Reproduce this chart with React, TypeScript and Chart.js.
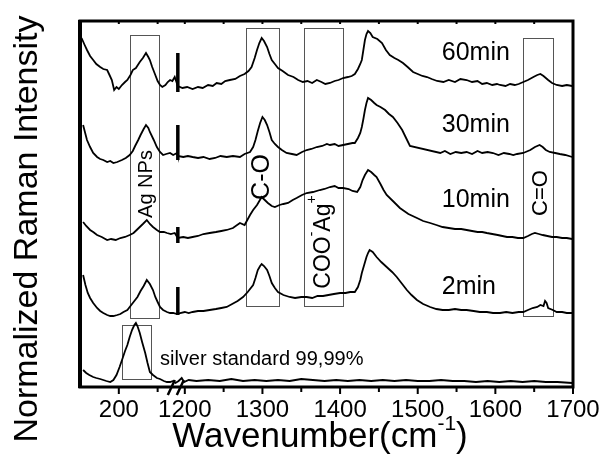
import { useEffect, useRef } from "react";
import { Chart, registerables } from "chart.js";

Chart.register(...registerables);

const FONT = "'Liberation Sans', Arial, Helvetica, sans-serif";

// ---- broken x axis: low range (cm-1) then high range (cm-1)
const BREAK_AT = 276; // axis units where the break sits
const HIGH_START = 1200;
const HIGH_OFFSET = 285;
const toAxis = (wn: number) => (wn < 1000 ? wn : wn - HIGH_START + HIGH_OFFSET);
const fromAxis = (a: number) => (a <= BREAK_AT ? a : a - HIGH_OFFSET + HIGH_START);

const xTickWn = [200, 250, 1200, 1250, 1300, 1350, 1400, 1450, 1500, 1550, 1600, 1650, 1700];
const xLabelWn = [200, 1200, 1300, 1400, 1500, 1600, 1700];

// ---- spectra: [wavenumber, offset intensity]
const s60: [number, number][] = [
  [152, 349], [156, 342], [159, 337], [163, 331], [167, 327], [171, 323], [176, 320], [180, 318], [185, 317], [188, 312],
  [191, 307], [194, 297], [197, 300], [200, 298], [204, 302], [208, 305], [211, 307], [215, 312], [218, 317], [222, 319],
  [227, 325], [231, 329], [235, 334], [238, 330], [240, 327], [243, 320], [247, 312], [250, 306], [253, 302], [256, 300],
  [260, 302], [263, 305], [266, 307], [269, 306], [272, 310],
  [1191, 301], [1197, 299], [1203, 300], [1210, 298], [1217, 300], [1223, 299], [1230, 302], [1236, 301], [1241, 304],
  [1247, 303], [1252, 306], [1258, 307], [1265, 308], [1271, 311], [1277, 313], [1282, 316], [1286, 320], [1290, 329],
  [1293, 337], [1296, 344], [1299, 349], [1302, 346], [1306, 340], [1309, 333], [1312, 327], [1316, 323], [1320, 319],
  [1326, 316], [1333, 312], [1340, 310], [1346, 307], [1352, 305], [1358, 306], [1364, 304], [1370, 307], [1376, 305],
  [1381, 303], [1387, 304], [1393, 306], [1398, 307], [1404, 309], [1410, 310], [1415, 311], [1419, 313], [1423, 318],
  [1426, 323], [1428, 327], [1430, 337], [1432, 347], [1434, 353], [1436, 356], [1439, 354], [1442, 350], [1448, 348],
  [1454, 344], [1459, 337], [1464, 332], [1470, 329], [1475, 327], [1481, 324], [1487, 320], [1494, 315], [1500, 313],
  [1506, 311], [1512, 310], [1518, 308], [1525, 306], [1533, 305], [1540, 307], [1548, 305], [1555, 308], [1563, 307],
  [1570, 305], [1577, 306], [1583, 303], [1589, 304], [1596, 302], [1602, 303], [1606, 302], [1613, 301], [1619, 303],
  [1625, 302], [1630, 303], [1636, 305], [1642, 307], [1649, 310], [1654, 312], [1658, 313], [1662, 311], [1668, 307],
  [1673, 304], [1679, 302], [1686, 301], [1692, 302], [1699, 301],
];

const s30: [number, number][] = [
  [154, 262], [157, 253], [159, 247], [163, 240], [167, 234], [172, 230], [176, 228], [180, 227], [185, 225], [189, 226],
  [193, 224], [198, 225], [204, 227], [209, 229], [214, 232], [218, 236], [221, 241], [225, 247], [228, 252], [232, 258],
  [235, 262], [238, 259], [240, 255], [245, 247], [249, 240], [253, 235], [257, 232], [261, 233], [266, 234], [270, 232],
  [275, 234],
  [1191, 231], [1198, 230], [1204, 231], [1210, 230], [1217, 229], [1224, 230], [1232, 228], [1239, 229], [1246, 231],
  [1254, 230], [1262, 231], [1271, 230], [1277, 233], [1284, 235], [1288, 240], [1291, 247], [1294, 256], [1297, 264],
  [1300, 270], [1303, 267], [1306, 262], [1309, 255], [1312, 247], [1316, 243], [1320, 240], [1325, 237], [1331, 234],
  [1338, 233], [1344, 232], [1351, 235], [1357, 237], [1363, 238], [1370, 240], [1377, 241], [1383, 243], [1387, 242],
  [1393, 243], [1398, 241], [1404, 242], [1410, 243], [1416, 244], [1419, 244], [1423, 249], [1426, 254], [1428, 260],
  [1430, 268], [1432, 277], [1434, 284], [1436, 289], [1440, 287], [1444, 284], [1447, 282], [1452, 280], [1458, 277],
  [1463, 273], [1468, 270], [1474, 264], [1480, 257], [1485, 249], [1490, 241], [1529, 234], [1535, 236], [1542, 233],
  [1549, 235], [1556, 234], [1563, 235], [1570, 233], [1577, 236], [1583, 234], [1590, 235], [1597, 234], [1604, 232],
  [1611, 234], [1618, 233], [1623, 232], [1628, 233], [1636, 234], [1645, 237], [1651, 240], [1657, 242], [1661, 240],
  [1665, 237], [1670, 235], [1677, 234], [1683, 233], [1690, 232], [1699, 230],
];

const s10: [number, number][] = [
  [154, 165], [158, 161], [163, 157], [167, 155], [172, 152], [178, 150], [185, 147], [190, 148], [196, 147], [202, 149],
  [208, 150], [214, 152], [219, 154], [223, 157], [227, 160], [231, 163], [236, 167], [240, 163], [244, 160], [249, 157],
  [253, 155], [258, 155], [262, 154], [267, 153], [272, 154],
  [1191, 149], [1198, 150], [1204, 149], [1210, 150], [1217, 151], [1224, 153], [1232, 154], [1240, 155], [1247, 156],
  [1254, 157], [1262, 159], [1271, 164], [1277, 162], [1284, 172], [1288, 177], [1293, 182], [1296, 186], [1299, 190],
  [1303, 187], [1307, 184], [1312, 181], [1316, 180], [1322, 182], [1327, 183], [1333, 184], [1339, 187], [1344, 189],
  [1351, 192], [1357, 194], [1365, 195], [1374, 197], [1380, 198], [1387, 200], [1393, 201], [1398, 199], [1404, 199],
  [1411, 198], [1416, 196], [1422, 195], [1426, 200], [1429, 207], [1432, 212], [1436, 217], [1440, 215], [1444, 212],
  [1447, 210], [1452, 203], [1456, 197], [1460, 192], [1468, 186], [1477, 179], [1488, 173], [1499, 169], [1507, 166],
  [1516, 164], [1524, 162], [1532, 160], [1540, 159], [1548, 158], [1556, 158], [1563, 157], [1570, 156], [1577, 155],
  [1583, 155], [1589, 154], [1596, 153], [1603, 152], [1609, 151], [1615, 150], [1622, 150], [1629, 149], [1636, 149],
  [1642, 151], [1647, 153], [1651, 154], [1656, 153], [1661, 152], [1667, 151], [1673, 150], [1679, 150], [1686, 149],
  [1692, 149], [1699, 148],
];

const s2: [number, number][] = [
  [154, 112], [157, 102], [160, 94], [163, 89], [167, 84], [172, 79], [176, 76], [180, 74], [185, 72], [189, 71],
  [193, 71], [198, 72], [202, 73], [206, 75], [211, 77], [215, 81], [219, 85], [224, 90], [228, 96], [232, 101],
  [236, 107], [240, 103], [244, 97], [247, 90], [250, 85], [253, 80], [257, 77], [262, 75], [266, 74], [270, 74],
  [275, 73],
  [1194, 74], [1200, 75], [1205, 74], [1210, 75], [1217, 76], [1224, 76], [1232, 77], [1240, 78], [1247, 79],
  [1254, 80], [1261, 83], [1268, 86], [1275, 90], [1281, 95], [1288, 102], [1291, 109], [1294, 117], [1297, 121],
  [1299, 123], [1302, 121], [1306, 117], [1309, 111], [1312, 104], [1316, 99], [1320, 95], [1327, 92], [1335, 90],
  [1342, 89], [1350, 90], [1357, 90], [1364, 89], [1371, 91], [1378, 91], [1385, 92], [1392, 93], [1400, 94],
  [1407, 94], [1413, 95], [1419, 95], [1423, 100], [1426, 107], [1428, 114], [1431, 122], [1434, 130], [1436, 134],
  [1438, 137], [1442, 135], [1447, 130], [1453, 125], [1460, 120], [1467, 115], [1473, 110], [1480, 103], [1486, 97],
  [1492, 92], [1499, 87], [1507, 83], [1516, 80], [1524, 78], [1532, 77], [1540, 77], [1548, 78], [1556, 77],
  [1563, 77], [1572, 76], [1580, 75], [1589, 75], [1597, 74], [1606, 74], [1614, 75], [1622, 74], [1630, 75],
  [1636, 75], [1642, 77], [1648, 79], [1654, 80], [1658, 82], [1662, 81], [1664, 86], [1666, 84], [1668, 79],
  [1674, 77], [1679, 75], [1686, 75], [1692, 74], [1699, 74],
];

const sAg: [number, number][] = [
  [154, 17], [158, 14], [162, 12], [167, 10], [171, 9], [176, 8], [180, 7], [184, 6], [189, 5], [193, 7],
  [197, 12], [201, 20], [205, 29], [208, 36], [211, 42], [214, 50], [217, 57], [220, 62], [222, 64], [224, 61],
  [227, 54], [230, 45], [234, 34], [237, 24], [240, 15], [244, 12], [249, 9], [253, 8], [258, 6], [262, 5],
  [266, 5], [270, 6], [273, 4],
  [1192, 6], [1196, 9], [1199, 5], [1205, 7], [1215, 6], [1230, 7], [1245, 6], [1260, 8], [1275, 6], [1290, 7],
  [1305, 6], [1320, 7], [1335, 6], [1350, 8], [1365, 7], [1380, 6], [1395, 7], [1410, 6], [1425, 7], [1440, 6],
  [1455, 7], [1470, 6], [1485, 7], [1500, 6], [1515, 6], [1530, 7], [1545, 6], [1560, 6], [1575, 5], [1590, 6],
  [1605, 5], [1620, 6], [1635, 5], [1650, 6], [1665, 5], [1680, 5], [1699, 4],
];

const seriesNames = ["60min", "30min", "10min", "2min"];
// vertical marks at the axis break for each time series (low, high)
const breakLow = [295, 227, 144, 72];
const breakHigh = [334, 262, 160, 100];

// ---- annotation boxes (wavenumber range, intensity range)
const boxes = [
  { from: 214, to: 252, low: 69, high: 352 },
  { from: 204, to: 241.5, low: 8, high: 62 },
  { from: 1279, to: 1321, low: 81, high: 359 },
  { from: 1353, to: 1404, low: 81, high: 359 },
  { from: 1636, to: 1674, low: 71, high: 349 },
];

type Piece = [string, boolean];
const boxLabels: { parts: Piece[]; wn: number; y: number; size: number }[] = [
  { parts: [["Ag NPs", false]], wn: 235, y: 203, size: 20 },
  { parts: [["C-O", false]], wn: 1299, y: 210, size: 25 },
  { parts: [["COO", false], ["-", true], ["Ag", false], ["+", true]], wn: 1378.5, y: 145, size: 23 },
  { parts: [["C=O", false]], wn: 1659, y: 194, size: 22 },
];

const seriesLabelPos = [
  { wn: 1531, y: 327 },
  { wn: 1531, y: 255 },
  { wn: 1531, y: 180 },
  { wn: 1531, y: 93 },
];
const silverLabel = { text: "silver standard 99,99%", wn: 253, y: 22 };

function drawPieces(ctx: CanvasRenderingContext2D, parts: Piece[], size: number, startX: number, baseY: number) {
  let x = startX;
  for (const [t, sup] of parts) {
    const fs = sup ? Math.round(size * 0.6) : size;
    ctx.font = `${fs}px ${FONT}`;
    ctx.fillText(t, x, sup ? baseY - size * 0.5 : baseY);
    x += ctx.measureText(t).width;
  }
}
function piecesWidth(ctx: CanvasRenderingContext2D, parts: Piece[], size: number) {
  let w = 0;
  for (const [t, sup] of parts) {
    const fs = sup ? Math.round(size * 0.6) : size;
    ctx.font = `${fs}px ${FONT}`;
    w += ctx.measureText(t).width;
  }
  return w;
}

const decorPlugin = {
  id: "decor",
  beforeDatasetsDraw(chart: any) {
    const { ctx, scales } = chart;
    const xs = scales.x;
    const ys = scales.y;
    ctx.save();
    ctx.strokeStyle = "#555";
    ctx.lineWidth = 1;
    for (const b of boxes) {
      const x0 = Math.round(xs.getPixelForValue(toAxis(b.from))) + 0.5;
      const x1 = Math.round(xs.getPixelForValue(toAxis(b.to))) + 0.5;
      const y0 = Math.round(ys.getPixelForValue(b.high)) + 0.5;
      const y1 = Math.round(ys.getPixelForValue(b.low)) + 0.5;
      ctx.strokeRect(x0, y0, x1 - x0, y1 - y0);
    }
    ctx.restore();
  },
  afterDatasetsDraw(chart: any) {
    const { ctx, scales, chartArea } = chart;
    const xs = scales.x;
    const ys = scales.y;
    const { left, right, top, bottom } = chartArea;
    ctx.save();
    ctx.fillStyle = "#000";
    ctx.strokeStyle = "#000";

    // frame
    ctx.lineWidth = 3;
    ctx.strokeRect(left, top, right - left, bottom - top);
    ctx.lineWidth = 4;
    ctx.beginPath();
    ctx.moveTo(left, top - 1);
    ctx.lineTo(left, bottom + 1);
    ctx.stroke();

    // ticks
    ctx.lineWidth = 2;
    for (const wn of xTickWn) {
      const px = xs.getPixelForValue(toAxis(wn));
      const major = xLabelWn.includes(wn);
      ctx.beginPath();
      ctx.moveTo(px, bottom);
      ctx.lineTo(px, bottom + (major ? 7 : 5));
      ctx.moveTo(px, top);
      ctx.lineTo(px, top + 3);
      ctx.stroke();
    }

    // axis break slashes
    const bx = xs.getPixelForValue(BREAK_AT);
    ctx.lineWidth = 2.5;
    ctx.beginPath();
    ctx.moveTo(bx - 10, bottom + 8);
    ctx.lineTo(bx - 3, bottom - 7);
    ctx.moveTo(bx - 1, bottom + 8);
    ctx.lineTo(bx + 6, bottom - 7);
    ctx.stroke();

    // series labels
    ctx.textAlign = "left";
    ctx.textBaseline = "alphabetic";
    ctx.font = `25px ${FONT}`;
    seriesNames.forEach((name, i) => {
      const p = seriesLabelPos[i];
      ctx.fillText(name, xs.getPixelForValue(toAxis(p.wn)), ys.getPixelForValue(p.y));
    });
    ctx.font = `20px ${FONT}`;
    ctx.fillText(silverLabel.text, xs.getPixelForValue(toAxis(silverLabel.wn)), ys.getPixelForValue(silverLabel.y));

    // rotated box labels
    ctx.textBaseline = "middle";
    for (const l of boxLabels) {
      const cx = xs.getPixelForValue(toAxis(l.wn));
      const cy = ys.getPixelForValue(l.y);
      ctx.save();
      ctx.translate(cx, cy);
      ctx.rotate(-Math.PI / 2);
      const w = piecesWidth(ctx, l.parts, l.size);
      drawPieces(ctx, l.parts, l.size, -w / 2, 0);
      ctx.restore();
    }

    // y axis title
    ctx.save();
    ctx.translate(27.5, 229);
    ctx.rotate(-Math.PI / 2);
    ctx.textAlign = "center";
    ctx.textBaseline = "middle";
    ctx.font = `34px ${FONT}`;
    ctx.fillText("Normalized Raman Intensity", 0, 0);
    ctx.restore();

    // x axis title
    ctx.textBaseline = "alphabetic";
    const xParts: Piece[] = [["Wavenumber(cm", false], ["-1", true], [")", false]];
    const tw = piecesWidth(ctx, xParts, 35);
    drawPieces(ctx, xParts, 35, 320 - tw / 2, 447);

    ctx.restore();
  },
};

export default function App() {
  const ref = useRef<HTMLCanvasElement | null>(null);

  useEffect(() => {
    if (!ref.current) return;
    const toPts = (s: [number, number][]) => s.map(([w, v]) => ({ x: toAxis(w), y: v }));
    const lineStyle = { borderColor: "#000", borderWidth: 1.8, pointRadius: 0, tension: 0, fill: false };
    const spectra = [s60, s30, s10, s2, sAg];
    const datasets: any[] = spectra.map((s, i) => ({
      label: i < 4 ? seriesNames[i] : silverLabel.text,
      data: toPts(s),
      ...lineStyle,
    }));
    breakLow.forEach((lo, i) => {
      datasets.push({
        label: "break " + seriesNames[i],
        data: [
          { x: BREAK_AT, y: lo },
          { x: BREAK_AT, y: breakHigh[i] },
        ],
        borderColor: "#000",
        borderWidth: 3.5,
        pointRadius: 0,
        fill: false,
      });
    });

    const chart = new Chart(ref.current, {
      type: "line",
      data: { datasets },
      options: {
        responsive: false,
        animation: false,
        devicePixelRatio: 1,
        layout: { padding: { left: 80, right: 31, top: 21, bottom: 0 } },
        plugins: { legend: { display: false }, tooltip: { enabled: false } },
        scales: {
          x: {
            type: "linear",
            min: 150,
            max: toAxis(1700),
            afterBuildTicks: (scale: any) => {
              scale.ticks = xTickWn.map((w) => ({ value: toAxis(w) }));
            },
            afterFit: (scale: any) => {
              scale.height = 67;
            },
            grid: { display: false, drawOnChartArea: false },
            border: { display: false },
            ticks: {
              autoSkip: false,
              maxRotation: 0,
              minRotation: 0,
              padding: 1,
              color: "#000",
              font: { family: FONT, size: 24 },
              callback: (value: any) => {
                const wn = Math.round(fromAxis(Number(value)));
                return xLabelWn.includes(wn) ? String(wn) : "";
              },
            },
          },
          y: {
            type: "linear",
            display: false,
            min: 0,
            max: 366,
          },
        },
      },
      plugins: [decorPlugin],
    });
    return () => chart.destroy();
  }, []);

  return (
    <div style={{ position: "absolute", left: 0, top: 0, width: 604, height: 454, background: "#fff" }}>
      <canvas ref={ref} width={604} height={454} style={{ display: "block" }} />
    </div>
  );
}
